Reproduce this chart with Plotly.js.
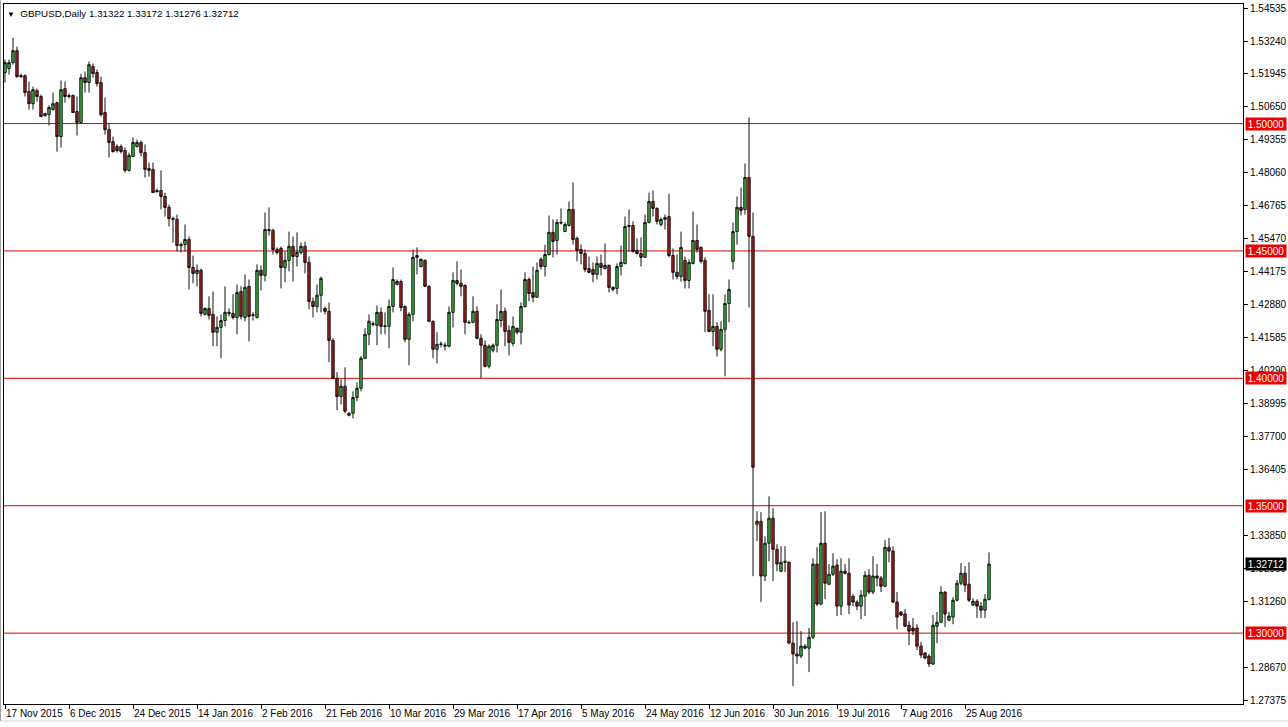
<!DOCTYPE html>
<html>
<head>
<meta charset="utf-8">
<script src="https://cdn.plot.ly/plotly-3.0.1.min.js"></script>
<style>html,body{margin:0;padding:0;background:#fff;}#chart{width:1288px;height:727px;}</style>
</head>
<body>
<div id="chart"></div>
<script>
const symbolTitle = "GBPUSD,Daily";
const lastBar = ["1.31322", "1.33172", "1.31276", "1.32712"];

const opens = [1.5200,1.5216,1.5239,1.5286,1.5188,1.5188,1.5126,1.5078,1.5129,1.5106,
1.5039,1.5035,1.5055,1.5082,1.4949,1.5137,1.5110,1.5110,1.5047,1.5004,
1.5180,1.5161,1.5224,1.5200,1.5161,1.5043,1.4976,1.4929,1.4910,1.4910,
1.4894,1.4816,1.4871,1.4910,1.4926,1.4886,1.4824,1.4820,1.4737,1.4737,
1.4714,1.4671,1.4627,1.4624,1.4525,1.4525,1.4545,1.4435,1.4412,1.4424,
1.4251,1.4274,1.4251,1.4181,1.4200,1.4227,1.4259,1.4255,1.4239,1.4341,
1.4239,1.4361,1.4247,1.4239,1.4424,1.4404,1.4584,1.4580,1.4506,1.4510,
1.4435,1.4463,1.4518,1.4478,1.4494,1.4518,1.4455,1.4302,1.4282,1.4326,
1.4274,1.4263,1.4149,1.4000,1.3929,1.3969,1.3855,1.3863,1.3925,1.3961,
1.4079,1.4173,1.4212,1.4208,1.4259,1.4204,1.4204,1.4282,1.4369,1.4380,
1.4282,1.4153,1.4251,1.4475,1.4439,1.4463,1.4361,1.4224,1.4114,1.4133,
1.4126,1.4126,1.4259,1.4384,1.4373,1.4365,1.4220,1.4220,1.4263,1.4157,
1.4130,1.4047,1.4110,1.4130,1.4227,1.4263,1.4188,1.4137,1.4196,1.4181,
1.4282,1.4388,1.4337,1.4318,1.4467,1.4439,1.4486,1.4573,1.4541,1.4612,
1.4576,1.4600,1.4663,1.4549,1.4506,1.4490,1.4431,1.4427,1.4408,1.4451,
1.4431,1.4443,1.4357,1.4353,1.4439,1.4451,1.4596,1.4600,1.4502,1.4490,
1.4475,1.4612,1.4694,1.4667,1.4604,1.4624,1.4635,1.4482,1.4416,1.4400,
1.4463,1.4384,1.4451,1.4541,1.4514,1.4463,1.4267,1.4184,1.4204,1.4114,
1.4192,1.4294,1.4459,1.4576,1.4671,1.4663,1.4788,1.4557,1.3427,1.3439,
1.3224,1.3353,1.3451,1.3329,1.3243,1.3282,1.3278,1.2961,1.2918,1.2910,
1.2949,1.2941,1.2984,1.3271,1.3114,1.3353,1.3192,1.3231,1.3267,1.3106,
1.3243,1.3235,1.3145,1.3122,1.3106,1.3145,1.3227,1.3161,1.3224,1.3216,
1.3184,1.3337,1.3322,1.3122,1.3083,1.3075,1.3031,1.3020,1.3020,1.2949,
1.2922,1.2910,1.2879,1.3027,1.3043,1.3161,1.3051,1.3063,1.3129,1.3196,
1.3235,1.3192,1.3110,1.3125,1.3106,1.3090,1.31322];

const highs = [1.5251,1.5251,1.5337,1.5302,1.5196,1.5192,1.5165,1.5145,1.5137,1.5114,
1.5043,1.5071,1.5122,1.5086,1.5169,1.5165,1.5118,1.5114,1.5106,1.5196,
1.5204,1.5243,1.5235,1.5212,1.5184,1.5102,1.5000,1.4949,1.4918,1.4918,
1.4906,1.4886,1.4945,1.4937,1.4933,1.4918,1.4847,1.4847,1.4745,1.4816,
1.4729,1.4682,1.4635,1.4643,1.4533,1.4604,1.4557,1.4482,1.4447,1.4431,
1.4278,1.4322,1.4341,1.4243,1.4251,1.4361,1.4274,1.4330,1.4369,1.4361,
1.4408,1.4388,1.4259,1.4447,1.4443,1.4651,1.4671,1.4588,1.4514,1.4518,
1.4498,1.4576,1.4557,1.4573,1.4533,1.4537,1.4478,1.4318,1.4369,1.4400,
1.4282,1.4298,1.4157,1.4024,1.3996,1.4043,1.3867,1.3949,1.3984,1.4087,
1.4196,1.4251,1.4224,1.4286,1.4278,1.4259,1.4310,1.4435,1.4388,1.4388,
1.4286,1.4259,1.4506,1.4514,1.4471,1.4467,1.4365,1.4227,1.4181,1.4145,
1.4141,1.4282,1.4416,1.4459,1.4427,1.4369,1.4227,1.4322,1.4282,1.4173,
1.4149,1.4133,1.4137,1.4290,1.4349,1.4278,1.4208,1.4243,1.4200,1.4298,
1.4416,1.4396,1.4439,1.4455,1.4475,1.4525,1.4639,1.4624,1.4624,1.4667,
1.4612,1.4694,1.4769,1.4557,1.4525,1.4506,1.4478,1.4455,1.4478,1.4486,
1.4529,1.4447,1.4361,1.4451,1.4521,1.4635,1.4663,1.4616,1.4549,1.4553,
1.4643,1.4729,1.4737,1.4671,1.4631,1.4643,1.4725,1.4510,1.4486,1.4576,
1.4478,1.4467,1.4655,1.4604,1.4518,1.4475,1.4330,1.4330,1.4220,1.4224,
1.4330,1.4388,1.4612,1.4714,1.4749,1.4843,1.5024,1.4651,1.3478,1.3475,
1.3380,1.3537,1.3490,1.3349,1.3341,1.3341,1.3282,1.3043,1.3047,1.3008,
1.2957,1.3020,1.3294,1.3337,1.3475,1.3478,1.3271,1.3314,1.3290,1.3294,
1.3271,1.3294,1.3153,1.3129,1.3169,1.3243,1.3251,1.3302,1.3271,1.3224,
1.3365,1.3373,1.3341,1.3161,1.3086,1.3094,1.3047,1.3059,1.3035,1.2965,
1.2926,1.2918,1.3071,1.3083,1.3184,1.3165,1.3083,1.3141,1.3208,1.3275,
1.3263,1.3278,1.3137,1.3133,1.3122,1.3153,1.33172];

const lows = [1.5161,1.5192,1.5231,1.5180,1.5180,1.5106,1.5055,1.5055,1.5086,1.5027,
1.5027,1.4992,1.5051,1.4890,1.4906,1.5082,1.5098,1.5043,1.4953,1.5000,
1.5122,1.5122,1.5180,1.5145,1.5027,1.4957,1.4867,1.4886,1.4886,1.4882,
1.4808,1.4812,1.4871,1.4906,1.4871,1.4788,1.4792,1.4729,1.4729,1.4663,
1.4635,1.4596,1.4533,1.4498,1.4494,1.4498,1.4349,1.4373,1.4361,1.4243,
1.4247,1.4231,1.4126,1.4126,1.4079,1.4204,1.4243,1.4231,1.4173,1.4231,
1.4224,1.4145,1.4227,1.4235,1.4345,1.4380,1.4561,1.4486,1.4486,1.4353,
1.4377,1.4420,1.4380,1.4439,1.4486,1.4412,1.4271,1.4239,1.4259,1.4259,
1.4251,1.4063,1.3996,1.3875,1.3898,1.3863,1.3851,1.3843,1.3910,1.3949,
1.4075,1.4130,1.4204,1.4130,1.4173,1.4173,1.4118,1.4259,1.4365,1.4263,
1.4141,1.4051,1.4224,1.4408,1.4435,1.4361,1.4220,1.4079,1.4059,1.4122,
1.4110,1.4122,1.4200,1.4365,1.4322,1.4173,1.4216,1.4216,1.4153,1.4000,
1.4043,1.4039,1.4102,1.4102,1.4200,1.4126,1.4090,1.4126,1.4173,1.4133,
1.4278,1.4302,1.4298,1.4318,1.4427,1.4400,1.4482,1.4475,1.4486,1.4604,
1.4576,1.4596,1.4525,1.4459,1.4447,1.4416,1.4412,1.4377,1.4388,1.4404,
1.4427,1.4337,1.4341,1.4330,1.4404,1.4447,1.4498,1.4494,1.4486,1.4439,
1.4475,1.4608,1.4635,1.4604,1.4596,1.4584,1.4475,1.4388,1.4388,1.4380,
1.4353,1.4353,1.4447,1.4494,1.4451,1.4181,1.4181,1.4126,1.4086,1.4106,
1.4008,1.4220,1.4427,1.4525,1.4639,1.4643,1.4278,1.3224,1.3361,1.3122,
1.3204,1.3282,1.3204,1.3243,1.3239,1.3239,1.2957,1.2792,1.2879,1.2902,
1.2937,1.2847,1.2976,1.3106,1.3110,1.3133,1.3188,1.3224,1.3067,1.3071,
1.3231,1.3075,1.3106,1.3090,1.3055,1.3067,1.3153,1.3153,1.3184,1.3161,
1.3180,1.3278,1.3118,1.3016,1.3067,1.3024,1.2953,1.2992,1.2933,1.2902,
1.2898,1.2867,1.2875,1.2961,1.3039,1.3024,1.3047,1.3035,1.3125,1.3188,
1.3161,1.3122,1.3106,1.3059,1.3059,1.3059,1.31276];

const closes = [1.5239,1.5239,1.5286,1.5184,1.5184,1.5122,1.5078,1.5133,1.5106,1.5027,
1.5031,1.5063,1.5078,1.4949,1.5133,1.5106,1.5106,1.5043,1.5004,1.5180,
1.5161,1.5231,1.5196,1.5157,1.5035,1.4976,1.4926,1.4890,1.4894,1.4890,
1.4816,1.4875,1.4926,1.4926,1.4886,1.4820,1.4816,1.4729,1.4733,1.4714,
1.4671,1.4627,1.4624,1.4521,1.4521,1.4545,1.4435,1.4412,1.4424,1.4255,
1.4274,1.4247,1.4181,1.4200,1.4227,1.4259,1.4255,1.4239,1.4337,1.4243,
1.4357,1.4243,1.4249,1.4424,1.4404,1.4584,1.4580,1.4506,1.4494,1.4435,
1.4463,1.4518,1.4478,1.4494,1.4518,1.4455,1.4302,1.4282,1.4326,1.4392,
1.4263,1.4149,1.4000,1.3929,1.3969,1.3871,1.3863,1.3925,1.3961,1.4079,
1.4173,1.4224,1.4214,1.4259,1.4204,1.4206,1.4282,1.4388,1.4380,1.4278,
1.4153,1.4251,1.4475,1.4482,1.4467,1.4361,1.4224,1.4114,1.4133,1.4135,
1.4130,1.4259,1.4384,1.4373,1.4361,1.4220,1.4218,1.4263,1.4157,1.4130,
1.4047,1.4126,1.4130,1.4231,1.4263,1.4184,1.4141,1.4204,1.4181,1.4282,
1.4388,1.4333,1.4318,1.4424,1.4439,1.4486,1.4573,1.4537,1.4612,1.4610,
1.4604,1.4663,1.4545,1.4502,1.4490,1.4427,1.4416,1.4408,1.4451,1.4435,
1.4443,1.4357,1.4349,1.4439,1.4455,1.4596,1.4600,1.4498,1.4490,1.4475,
1.4612,1.4694,1.4667,1.4616,1.4624,1.4631,1.4482,1.4416,1.4400,1.4514,
1.4384,1.4455,1.4541,1.4506,1.4459,1.4263,1.4184,1.4204,1.4114,1.4192,
1.4294,1.4349,1.4576,1.4671,1.4659,1.4788,1.4557,1.3651,1.3439,1.3224,
1.3353,1.3451,1.3329,1.3271,1.3278,1.3278,1.2961,1.2918,1.2910,1.2949,
1.2941,1.2984,1.3271,1.3114,1.3353,1.3196,1.3231,1.3263,1.3106,1.3243,
1.3235,1.3110,1.3122,1.3106,1.3149,1.3227,1.3161,1.3224,1.3216,1.3184,
1.3337,1.3322,1.3122,1.3063,1.3071,1.3027,1.3008,1.3008,1.2949,1.2914,
1.2902,1.2879,1.3031,1.3043,1.3161,1.3075,1.3067,1.3129,1.3196,1.3235,
1.3188,1.3129,1.3125,1.3106,1.3090,1.3133,1.32712];

const dateTickBars = [0,16,32,48,64,80,96,112,128,144,160,176,192,208,224,240];
const dateTickLabels = ["17 Nov 2015","6 Dec 2015","24 Dec 2015","14 Jan 2016","2 Feb 2016",
"21 Feb 2016","10 Mar 2016","29 Mar 2016","17 Apr 2016","5 May 2016","24 May 2016",
"12 Jun 2016","30 Jun 2016","19 Jul 2016","7 Aug 2016","25 Aug 2016"];

const priceTicks = [1.54535,1.53240,1.51945,1.50650,1.49355,1.48060,1.46765,1.45470,1.44175,
1.42880,1.41585,1.40290,1.38995,1.37700,1.36405,1.33850,1.32555,1.31260,1.28670,1.27375];
const priceTickLabels = ["1.54535","1.53240","1.51945","1.50650","1.49355","1.48060","1.46765",
"1.45470","1.44175","1.42880","1.41585","1.40290","1.38995","1.37700","1.36405","1.33850",
"1.32555","1.31260","1.28670","1.27375"];

const levels = [1.50, 1.45, 1.40, 1.35, 1.30];
const levelLabels = ["1.50000","1.45000","1.40000","1.35000","1.30000"];
const currentPrice = 1.32712;
const currentLabel = "1.32712";

const FONT = "Liberation Sans, Arial, sans-serif";
const xs = opens.map((_, i) => i);

const trace = {
  type: "candlestick",
  x: xs, open: opens, high: highs, low: lows, close: closes,
  increasing: {line: {color: "#111111", width: 1}, fillcolor: "#36c23a"},
  decreasing: {line: {color: "#111111", width: 1}, fillcolor: "#b01c1c"},
  whiskerwidth: 0,
  hoverinfo: "skip",
  showlegend: false
};

const shapes = levels.map(v => ({
  type: "line", xref: "paper", yref: "y", x0: 0, x1: 1, y0: v, y1: v,
  line: {color: "rgb(220,0,0)", width: 1}, layer: "below"
}));
// outer window frame
shapes.push({type: "line", xref: "paper", yref: "paper", x0: -3.5/1239, x1: -3.5/1239, y0: -17/700, y1: 1+3.5/700,
  line: {color: "#a0a0a0", width: 1}});
shapes.push({type: "line", xref: "paper", yref: "paper", x0: -3.5/1239, x1: 1283.5/1239, y0: -17/700, y1: -17/700,
  line: {color: "#d0d0d0", width: 1}});

const annotations = levels.map((v, k) => ({
  xref: "paper", yref: "y", x: 1, y: v, xanchor: "left", yanchor: "middle", xshift: 2,
  text: levelLabels[k], showarrow: false, bgcolor: "rgb(238,0,0)", width: 40, height: 12,
  borderpad: 0, align: "center", font: {family: FONT, size: 10, color: "#ffffff"}
}));
annotations.push({
  xref: "paper", yref: "y", x: 1, y: currentPrice, xanchor: "left", yanchor: "middle", xshift: 2,
  text: currentLabel, showarrow: false, bgcolor: "#000000", width: 40, height: 12,
  borderpad: 0, align: "center", font: {family: FONT, size: 10, color: "#ffffff"}
});
annotations.push({
  xref: "paper", yref: "paper", x: 0, y: 1, xanchor: "left", yanchor: "top", xshift: 1, yshift: -2,
  text: '<span style="font-size:8px">▼</span>\u00a0\u00a0' + symbolTitle + '\u00a0' + lastBar.join('\u00a0'),
  showarrow: false, font: {family: FONT, size: 9.8, color: "#000000"}
});

const layout = {
  width: 1288, height: 727,
  margin: {l: 4, r: 45, t: 4, b: 23, pad: 0},
  paper_bgcolor: "#ffffff", plot_bgcolor: "#ffffff",
  font: {family: FONT, size: 10, color: "#000000"},
  showlegend: false,
  boxgap: 0.15,
  xaxis: {
    type: "linear", range: [-0.25, 309.5], fixedrange: true,
    tickmode: "array", tickvals: dateTickBars, ticktext: dateTickLabels,
    ticks: "outside", ticklen: 4, tickcolor: "#000000", tickwidth: 1,
    ticklabelposition: "outside right", tickangle: 0,
    tickfont: {family: FONT, size: 10, color: "#000000"},
    showline: true, linecolor: "#000000", linewidth: 1, mirror: true,
    showgrid: false, zeroline: false,
    rangeslider: {visible: false}
  },
  yaxis: {
    side: "right", range: [1.27219, 1.54692], fixedrange: true,
    tickmode: "array", tickvals: priceTicks, ticktext: priceTickLabels,
    ticks: "outside", ticklen: 4, tickcolor: "#000000", tickwidth: 1,
    tickfont: {family: FONT, size: 10, color: "#000000"},
    showline: true, linecolor: "#000000", linewidth: 1, mirror: true,
    showgrid: false, zeroline: false
  },
  shapes: shapes,
  annotations: annotations
};

Plotly.newPlot("chart", [trace], layout, {staticPlot: true, displayModeBar: false});
</script>
</body>
</html>
